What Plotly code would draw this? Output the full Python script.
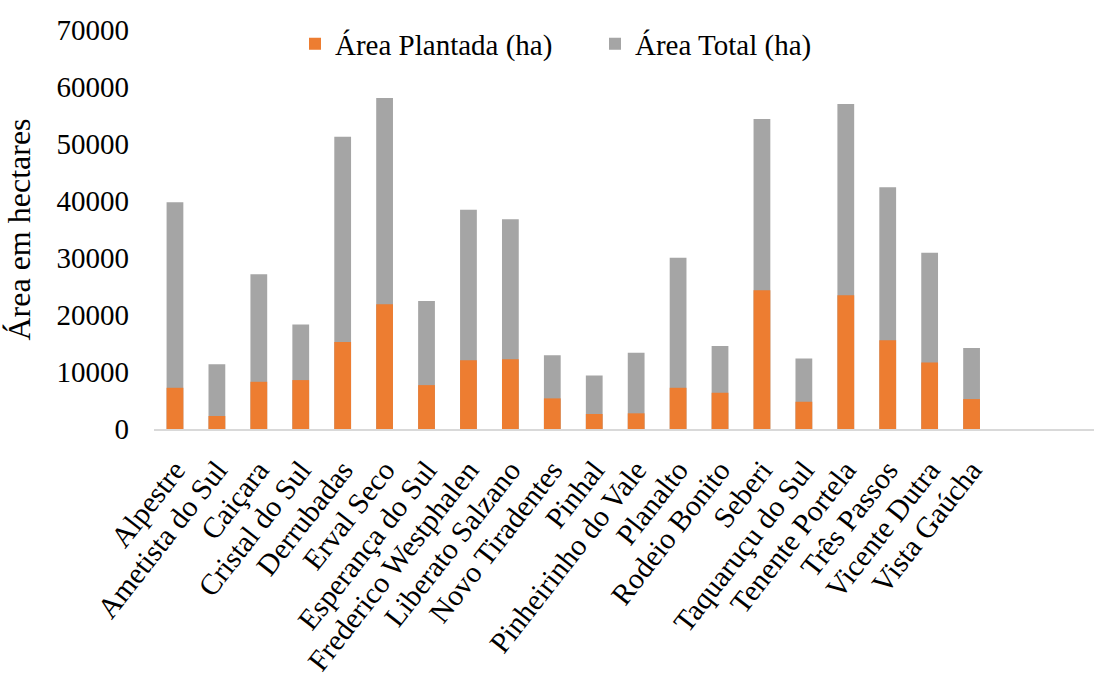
import plotly.graph_objects as go

# Municípios e áreas (ha)
municipios = [
    "Alpestre", "Ametista do Sul", "Caiçara", "Cristal do Sul", "Derrubadas",
    "Erval Seco", "Esperança do Sul", "Frederico Westphalen", "Liberato Salzano",
    "Novo Tiradentes", "Pinhal", "Pinheirinho do Vale", "Planalto", "Rodeio Bonito",
    "Seberi", "Taquaruçu do Sul", "Tenente Portela", "Três Passos", "Vicente Dutra",
    "Vista Gaúcha",
]
area_plantada = [
    7230, 2280, 8280, 8580, 15280, 21880, 7700, 12080, 12250, 5370,
    2630, 2750, 7230, 6360, 24330, 4780, 23450, 15580, 11670, 5250,
]
area_total = [
    39800, 11380, 27130, 18320, 51280, 58050, 22450, 38450, 36800, 12950,
    9400, 13360, 30050, 14580, 54370, 12370, 57000, 42400, 30930, 14230,
]
y_ticks = [0, 10000, 20000, 30000, 40000, 50000, 60000, 70000]

FONT = "Liberation Serif"
ORANGE = "#ED7D31"
GRAY = "#A5A5A5"

fig = go.Figure()
# total drawn first so the planted area sits in front of it
fig.add_trace(go.Bar(
    x=municipios, y=area_total, name="Área Total (ha)",
    marker=dict(color=GRAY, line=dict(width=0)), width=0.4,
))
fig.add_trace(go.Bar(
    x=municipios, y=area_plantada, name="Área Plantada (ha)",
    marker=dict(color=ORANGE, line=dict(width=0)), width=0.4,
))

fig.update_layout(
    width=1094, height=677,
    barmode="overlay",
    paper_bgcolor="white", plot_bgcolor="white",
    margin=dict(l=154, r=0, t=30, b=248, autoexpand=False),
    font=dict(family=FONT, color="black", size=29),
    showlegend=True,
    legend=dict(
        orientation="h", x=0.15, y=0.965, xanchor="left", yanchor="middle",
        traceorder="reversed",
        font=dict(size=29, family=FONT),
        entrywidth=255, entrywidthmode="pixels",
        bgcolor="rgba(0,0,0,0)",
    ),
    xaxis=dict(
        type="category", range=[-0.5, 21.92],
        tickangle=-52, tickfont=dict(size=29.5, family=FONT),
        showline=True, linecolor="#D9D9D9", linewidth=2,
        showgrid=False, ticks="", ticklabelstandoff=10,
        automargin=False,
    ),
    yaxis=dict(
        range=[0, 70000], tickvals=y_ticks, ticktext=[str(v) for v in y_ticks],
        tickfont=dict(size=29, family=FONT),
        showgrid=False, zeroline=False, showline=False, ticks="",
        ticklabelstandoff=24,
        title=dict(text="Área em hectares", font=dict(size=32, family=FONT), standoff=16),
        automargin=False,
    ),
)

fig.write_html("out.html")
